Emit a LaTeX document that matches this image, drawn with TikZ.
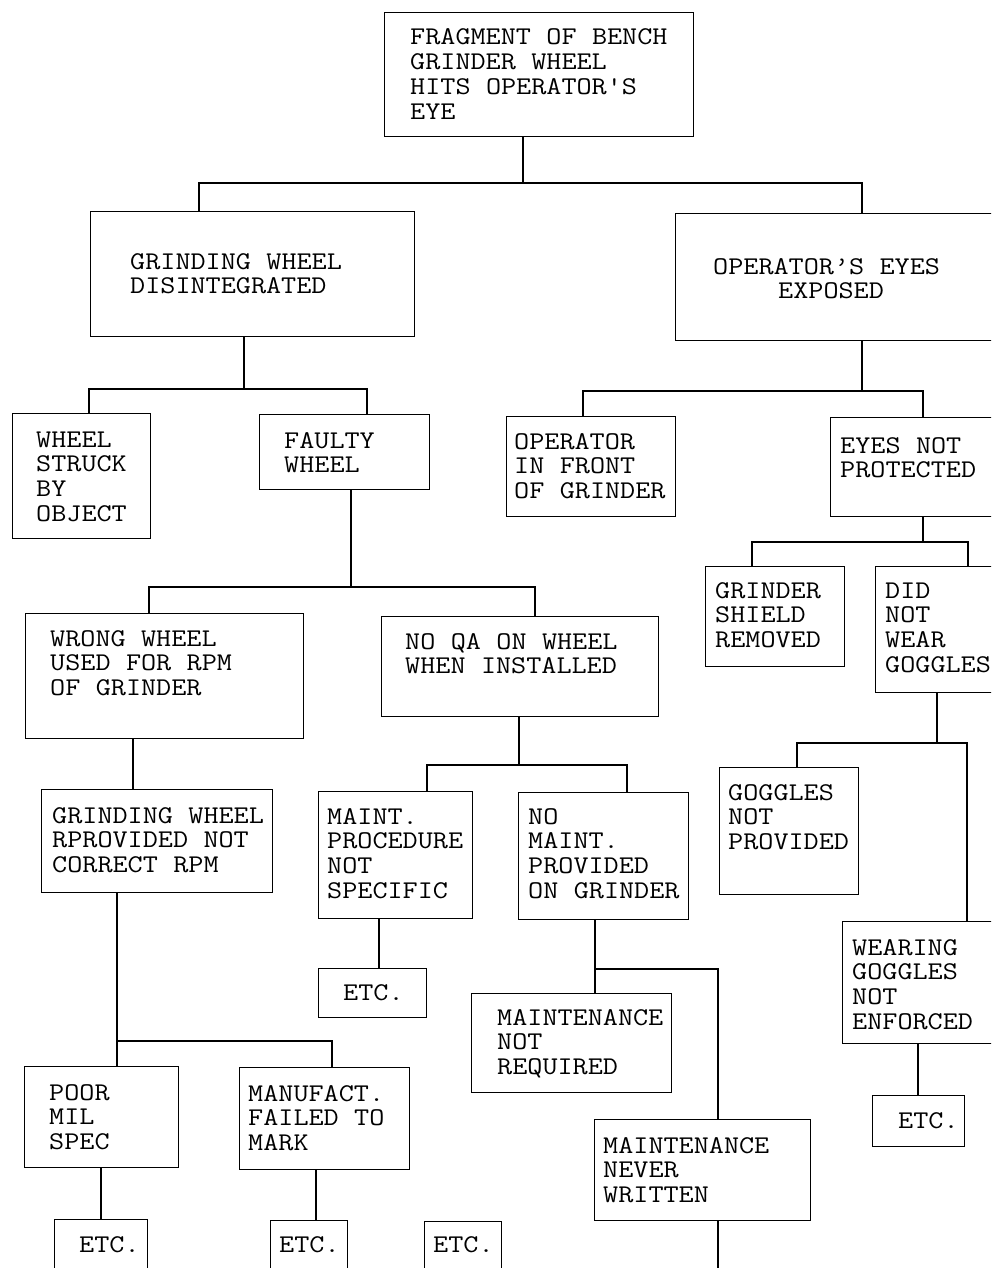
\documentclass[tikz,border=0pt]{standalone}
\usepackage{fontspec}
\setmonofont{Latin Modern Mono}[FakeStretch=1.15]
\newcommand{\boxfont}{\ttfamily\fontsize{25.5}{24.8}\selectfont}
\begin{document}
\begin{tikzpicture}[x=1pt,y=-1pt,
  box/.style={draw, line width=1.1pt, inner sep=0pt, anchor=north west},
  txt/.style={font=\boxfont, text width=330pt, align=flush left, inner sep=0pt, anchor=base west,
    execute at begin node={\spaceskip=15.4pt\relax\xspaceskip=15.4pt\relax}},
  conn/.style={line width=1.1pt}]
\useasboundingbox (0,0) rectangle (991,1268);
\fill[white] (0,0) rectangle (991,1268);
\clip (0,0) rectangle (991,1268);
% boxes
\node[box, minimum width=309pt, minimum height=124pt] (top) at (384,12) {};
\node[box, minimum width=324pt, minimum height=125pt] (gw) at (90,211) {};
\node[box, minimum width=335pt, minimum height=127pt] (oe) at (675,213) {};
\node[box, minimum width=138pt, minimum height=125pt] (ws) at (12,413) {};
\node[box, minimum width=170pt, minimum height=75pt] (fw) at (259,414) {};
\node[box, minimum width=169pt, minimum height=100pt] (op) at (506,416) {};
\node[box, minimum width=180pt, minimum height=99pt] (enp) at (830,417) {};
\node[box, minimum width=278pt, minimum height=125pt] (ww) at (25,613) {};
\node[box, minimum width=277pt, minimum height=100pt] (nqa) at (381,616) {};
\node[box, minimum width=139pt, minimum height=100pt] (gs) at (705,566) {};
\node[box, minimum width=135pt, minimum height=126pt] (dnw) at (875,566) {};
\node[box, minimum width=231pt, minimum height=103pt] (gr) at (41,789) {};
\node[box, minimum width=154pt, minimum height=127pt] (mp) at (318,791) {};
\node[box, minimum width=170pt, minimum height=127pt] (nm) at (518,792) {};
\node[box, minimum width=139pt, minimum height=127pt] (gnp) at (719,767) {};
\node[box, minimum width=168pt, minimum height=122pt] (wg) at (842,921) {};
\node[box, minimum width=108pt, minimum height=49pt] (etc1) at (318,968) {};
\node[box, minimum width=200pt, minimum height=99pt] (mnr) at (471,993) {};
\node[box, minimum width=216pt, minimum height=101pt] (mnw) at (594,1119) {};
\node[box, minimum width=92pt, minimum height=51pt] (etcw) at (872,1095) {};
\node[box, minimum width=154pt, minimum height=101pt] (poor) at (24,1066) {};
\node[box, minimum width=170pt, minimum height=102pt] (mf) at (239,1067) {};
\node[box, minimum width=93pt, minimum height=70pt] (etcA) at (54,1219) {};
\node[box, minimum width=77pt, minimum height=70pt] (etcB) at (270,1220) {};
\node[box, minimum width=77pt, minimum height=70pt] (etcC) at (424,1221) {};
% texts
\node[txt] (t-top) at (410,45) {FRAGMENT OF BENCH\\GRINDER WHEEL\\HITS OPERATOR'S\\EYE};
\node[txt] (t-gw) at (130,269) {GRINDING WHEEL\\DISINTEGRATED};
\node[txt] (t-oe) at (713,274) {OPERATOR’S EYES\\\hspace*{65pt}EXPOSED};
\node[txt] (t-ws) at (36,447) {WHEEL\\STRUCK\\BY\\OBJECT};
\node[txt] (t-fw) at (284,448) {FAULTY\\WHEEL};
\node[txt] (t-op) at (514,449) {OPERATOR\\IN FRONT\\OF GRINDER};
\node[txt] (t-enp) at (840,453) {EYES NOT\\PROTECTED};
\node[txt] (t-ww) at (50,646) {WRONG WHEEL\\USED FOR RPM\\OF GRINDER};
\node[txt] (t-nqa) at (405,649) {NO QA ON WHEEL\\WHEN INSTALLED};
\node[txt] (t-gs) at (715,598) {GRINDER\\SHIELD\\REMOVED};
\node[txt] (t-dnw) at (885,598) {DID\\NOT\\WEAR\\GOGGLES};
\node[txt] (t-gr) at (52,823) {GRINDING WHEEL\\RPROVIDED NOT\\CORRECT RPM};
\node[txt] (t-mp) at (327,824) {MAINT.\\PROCEDURE\\NOT\\SPECIFIC};
\node[txt] (t-nm) at (528,824) {NO\\MAINT.\\PROVIDED\\ON GRINDER};
\node[txt] (t-gnp) at (728,800) {GOGGLES\\NOT\\PROVIDED};
\node[txt] (t-wg) at (852,955) {WEARING\\GOGGLES\\NOT\\ENFORCED};
\node[txt] (t-etc1) at (343,1000) {ETC.};
\node[txt] (t-mnr) at (497,1025) {MAINTENANCE\\NOT\\REQUIRED};
\node[txt] (t-mnw) at (603,1153) {MAINTENANCE\\NEVER\\WRITTEN};
\node[txt] (t-etcw) at (898,1128) {ETC.};
\node[txt] (t-poor) at (49,1100) {POOR\\MIL\\SPEC};
\node[txt] (t-mf) at (248,1101) {MANUFACT.\\FAILED TO\\MARK};
\node[txt] (t-etcA) at (79,1252) {ETC.};
\node[txt] (t-etcB) at (279,1252) {ETC.};
\node[txt] (t-etcC) at (433,1252) {ETC.};
% junctions
\coordinate (b1) at (523,183);
\coordinate (b2) at (244,389);
\coordinate (b3) at (351,587);
\coordinate (b5) at (519,765);
\coordinate (b7) at (595,969);
\coordinate (b9) at (117,1041);
\coordinate (b12) at (862,391);
\coordinate (b13) at (923,542);
\coordinate (b14) at (937,743);
\coordinate (bot) at (718,1280);
% connectors
\draw[conn] ([xshift=139pt]top.south west) -- (b1);
\draw[conn] ([xshift=109pt]gw.north west) |- (b1) -| ([xshift=187pt]oe.north west);
\draw[conn] ([xshift=154pt]gw.south west) -- (b2);
\draw[conn] ([xshift=77pt]ws.north west) |- (b2) -| ([xshift=108pt]fw.north west);
\draw[conn] ([xshift=92pt]fw.south west) -- (b3);
\draw[conn] ([xshift=124pt]ww.north west) |- (b3) -| ([xshift=154pt]nqa.north west);
\draw[conn] ([xshift=108pt]ww.south west) -- ([xshift=92pt]gr.north west);
\draw[conn] ([xshift=138pt]nqa.south west) -- (b5);
\draw[conn] ([xshift=109pt]mp.north west) |- (b5) -| ([xshift=109pt]nm.north west);
\draw[conn] ([xshift=61pt]mp.south west) -- ([xshift=61pt]etc1.north west);
\draw[conn] ([xshift=77pt]nm.south west) -- (b7) -| ([xshift=124pt]mnw.north west);
\draw[conn] (b7) -- ([xshift=124pt]mnr.north west);
\draw[conn] ([xshift=124pt]mnw.south west) -- (bot);
\draw[conn] ([xshift=76pt]gr.south west) -- (b9);
\draw[conn] ([xshift=93pt]poor.north west) |- (b9) -| ([xshift=93pt]mf.north west);
\draw[conn] ([xshift=77pt]poor.south west) -- ([xshift=47pt]etcA.north west);
\draw[conn] ([xshift=77pt]mf.south west) -- ([xshift=46pt]etcB.north west);
\draw[conn] ([xshift=187pt]oe.south west) -- (b12);
\draw[conn] ([xshift=77pt]op.north west) |- (b12) -| ([xshift=93pt]enp.north west);
\draw[conn] ([xshift=93pt]enp.south west) -- (b13);
\draw[conn] ([xshift=47pt]gs.north west) |- (b13) -| ([xshift=93pt]dnw.north west);
\draw[conn] ([xshift=62pt]dnw.south west) -- (b14);
\draw[conn] ([xshift=78pt]gnp.north west) |- (b14) -| ([xshift=125pt]wg.north west);
\draw[conn] ([xshift=76pt]wg.south west) -- ([xshift=46pt]etcw.north west);
\end{tikzpicture}
\end{document}
